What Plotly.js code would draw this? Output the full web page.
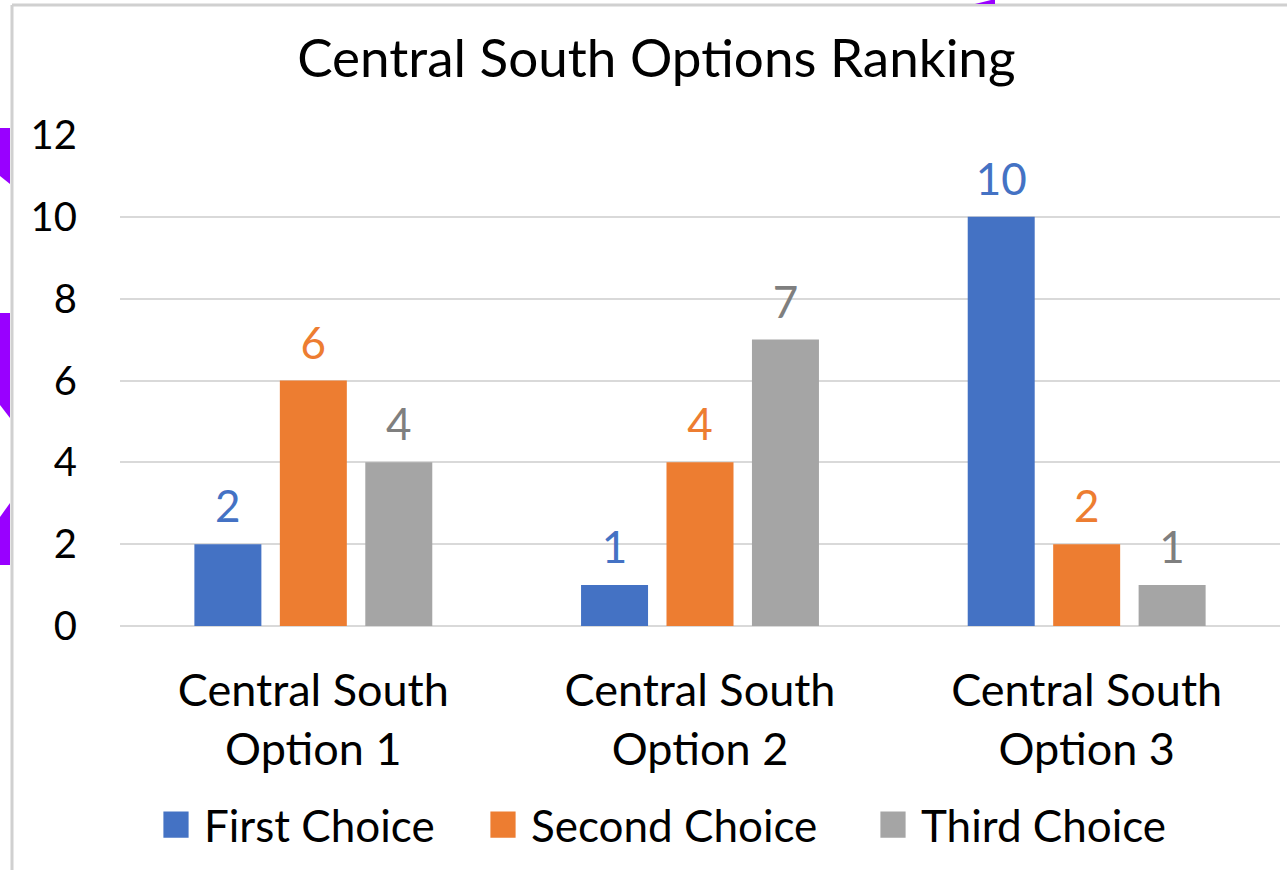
<!DOCTYPE html>
<html>
<head>
<meta charset="utf-8">
<script src="https://cdn.plot.ly/plotly-3.0.1.min.js"></script>
<style>html,body{margin:0;padding:0;background:#fff;}#chart{width:1287px;height:870px;}</style>
</head>
<body>
<div id="chart"></div>
<script>
const categories = ["Central South<br>Option 1", "Central South<br>Option 2", "Central South<br>Option 3"];
const seriesNames = ["First Choice", "Second Choice", "Third Choice"];
const firstChoice = [2, 1, 10];
const secondChoice = [6, 4, 2];
const thirdChoice = [4, 7, 1];
const yTicks = [0, 2, 4, 6, 8, 10, 12];

const barColors = ["#4472C4", "#ED7D31", "#A5A5A5"];
const labelColors = ["#4472C4", "#ED7D31", "#7F7F7F"];
const legendWidths = [266, 329, 250];
const FONT = "Lato, 'Open Sans', sans-serif";

const values = [firstChoice, secondChoice, thirdChoice];
const traces = values.map((v, i) => ({
  type: "bar",
  name: seriesNames[i],
  x: categories,
  y: v,
  marker: {color: barColors[i]},
  text: v.map(String),
  textposition: "outside",
  cliponaxis: false,
  textfont: {family: FONT, size: 44, color: labelColors[i]},
  legendwidth: legendWidths[i],
  hoverinfo: "x+y+name"
}));

const P = (px) => (px - 120) / 1160;   // pixel x -> paper x
const Q = (py) => (626 - py) / 491;    // pixel y -> paper y

const layout = {
  width: 1287,
  height: 870,
  margin: {l: 120, r: 7, t: 135, b: 244},
  paper_bgcolor: "#ffffff",
  plot_bgcolor: "#ffffff",
  font: {family: FONT, color: "#000000"},
  title: {
    text: "Central South Options Ranking",
    font: {family: FONT, size: 53, color: "#000000"},
    x: 0.51, xref: "container", xanchor: "center",
    y: 1 - 58/870, yref: "container", yanchor: "middle"
  },
  barmode: "group",
  bargap: 0.337,
  bargroupgap: 0.216,
  xaxis: {
    type: "category",
    tickfont: {family: FONT, size: 45, color: "#000000"},
    showline: false, showgrid: false, ticks: "", ticklen: 0,
    ticklabelstandoff: 34
  },
  yaxis: {
    range: [0, 12],
    tickvals: yTicks,
    ticktext: yTicks.map(String),
    tickfont: {family: FONT, size: 40, color: "#000000"},
    showgrid: true, gridcolor: "#D9D9D9", gridwidth: 2,
    zeroline: true, zerolinecolor: "#D9D9D9", zerolinewidth: 2,
    showline: false, ticks: "", ticklabelstandoff: 42
  },
  showlegend: true,
  legend: {
    orientation: "h",
    x: P(148), xanchor: "left",
    y: Q(825), yanchor: "middle",
    font: {family: FONT, size: 44, color: "#000000"},
    itemwidth: 46,
    traceorder: "normal"
  },
  shapes: [
    {type: "line", xref: "paper", yref: "paper", x0: P(12), x1: P(12), y0: Q(5), y1: Q(880), line: {color: "#D0D0D0", width: 3}},
    {type: "line", xref: "paper", yref: "paper", x0: P(12), x1: P(1290), y0: Q(5), y1: Q(5), line: {color: "#D0D0D0", width: 3}},
    {type: "path", xref: "paper", yref: "paper", fillcolor: "#9900FF", line: {width: 0},
     path: `M ${P(0)},${Q(128)} L ${P(10)},${Q(128)} L ${P(10)},${Q(184)} L ${P(0)},${Q(176)} Z`},
    {type: "path", xref: "paper", yref: "paper", fillcolor: "#9900FF", line: {width: 0},
     path: `M ${P(0)},${Q(313)} L ${P(10)},${Q(313)} L ${P(10)},${Q(418)} L ${P(0)},${Q(405)} Z`},
    {type: "path", xref: "paper", yref: "paper", fillcolor: "#9900FF", line: {width: 0},
     path: `M ${P(0)},${Q(517)} L ${P(10)},${Q(503)} L ${P(10)},${Q(565)} L ${P(0)},${Q(565)} Z`},
    {type: "path", xref: "paper", yref: "paper", fillcolor: "#9900FF", line: {width: 0},
     path: `M ${P(975)},${Q(4)} L ${P(995)},${Q(-1)} L ${P(995)},${Q(4)} Z`}
  ]
};

Plotly.newPlot("chart", traces, layout, {displayModeBar: false, staticPlot: true}).then((gd) => {
  // enlarge legend swatches to match the reference's larger squares
  gd.querySelectorAll(".legendpoints path").forEach((p) => {
    const t = p.getAttribute("transform") || "";
    p.setAttribute("transform", t + " scale(2.1,2.2)");
  });
  // lift the value labels a little above the bars
  gd.querySelectorAll("text.bartext").forEach((el) => {
    const t = el.getAttribute("transform") || "";
    el.setAttribute("transform", "translate(0,-10) " + t);
  });
});
</script>
</body>
</html>
